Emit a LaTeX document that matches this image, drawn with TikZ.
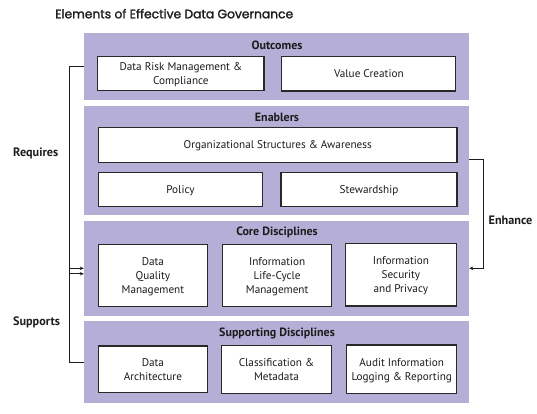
\documentclass[tikz,border=0pt]{standalone}
\usepackage{fontspec}
\setmainfont{PT Sans}
\newfontfamily\titlefont[FakeBold=1.6]{Poppins}
\usetikzlibrary{arrows.meta}
\definecolor{lav}{RGB}{181,174,214}
\definecolor{ink}{RGB}{30,27,28}
\definecolor{edge}{RGB}{40,40,40}
\begin{document}
\begin{tikzpicture}[x=1pt,y=-1pt,
  font=\fontsize{11.2}{14}\selectfont, text=ink,
  panel/.style={fill=lav, draw=none, minimum width=385pt, inner sep=0pt},
  box/.style={fill=white, draw=edge, line width=1.1pt, inner sep=0pt, align=center, text depth=0pt},
  ptitle/.style={font=\fontsize{12}{14}\selectfont\bfseries},
  side/.style={font=\fontsize{12.2}{14}\selectfont\bfseries},
  conn/.style={draw=ink, line width=0.9pt},
  tip/.style={-{Stealth[length=4pt,width=3.5pt]}}
]
\useasboundingbox (0,0) rectangle (537,413);
\node[anchor=base west, inner sep=0pt] (title) at (55,18.3)
  {\titlefont\resizebox{238pt}{!}{Elements of Effective Data Governance}};

% panels
\node[panel, minimum height=67pt] (outcomes) at (276.5,66.5) {};
\node[panel, minimum height=109pt] (enablers) at (276.5,160.5) {};
\node[panel, minimum height=94.7pt] (core) at (276.5,268.3) {};
\node[panel, minimum height=82.3pt] (supporting) at (276.5,362.2) {};

% panel titles
\node[ptitle] (tout) at (277,45.5) {Outcomes};
\node[ptitle] (tena) at (277,117.8) {Enablers};
\node[ptitle] (tcor) at (277,232.8) {Core Disciplines};
\node[ptitle] (tsup) at (277,333.8) {Supporting Disciplines};

% boxes
\node[box, minimum width=166.3pt, minimum height=34pt] (drm) at (180.85,73.7) {Data Risk Management \&\\Compliance};
\node[box, minimum width=174.1pt, minimum height=34.3pt] (vc) at (368.85,73.85) {Value Creation};
\node[box, minimum width=358.6pt, minimum height=34.6pt] (org) at (277.7,145) {Organizational Structures \& Awareness};
\node[box, minimum width=164.2pt, minimum height=34.4pt] (pol) at (180.5,189.5) {Policy};
\node[box, minimum width=176pt, minimum height=34.4pt] (stew) at (369,189.5) {Stewardship};
\node[box, minimum width=109pt, minimum height=62.4pt] (dq) at (152.9,275.5) {Data\\Quality\\Management};
\node[box, minimum width=108.7pt, minimum height=62.4pt] (ilc) at (277.15,275.5) {Information\\Life-Cycle\\Management};
\node[box, minimum width=111.4pt, minimum height=62.7pt] (is) at (400.9,274.65) {Information\\Security\\and Privacy};
\node[box, minimum width=109pt, minimum height=46.7pt] (da) at (152.9,369.35) {Data\\Architecture};
\node[box, minimum width=110.7pt, minimum height=48pt] (cm) at (276.45,369.3) {Classification \&\\Metadata};
\node[box, minimum width=109.7pt, minimum height=48.3pt] (audit) at (401.75,369.15) {Audit Information\\Logging \& Reporting};

% side labels
\node[side] (req) at (35.7,153.8) {Requires};
\node[side] (sup) at (36.5,322.8) {Supports};
\node[side] (enh) at (510.5,220.5) {Enhance};

% connectors
\coordinate (lx) at (69.7,0);
\coordinate (rx) at (483.8,0);
\draw[conn] (outcomes.west) -- (outcomes.west -| lx) -- (supporting.west -| lx) -- (supporting.west);
\draw[conn, tip] (core.west -| lx) -- (core.west);
\draw[conn, tip] ([yshift=-5.5pt]core.west -| lx) -- ([yshift=-5.5pt]core.west);
\draw[conn, tip] ([yshift=1.2pt]enablers.east) -- ([yshift=1.2pt]enablers.east -| rx) -- (core.east -| rx) -- (core.east);
\end{tikzpicture}
\end{document}
